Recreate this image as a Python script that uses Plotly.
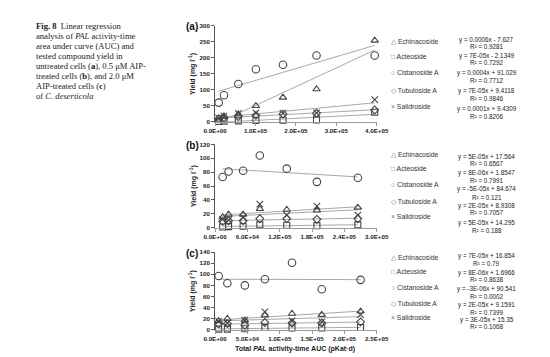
import numpy as np
import plotly.graph_objects as go

W, H = 550, 357

# ---------------- data ----------------
compounds = ["Echinacoside", "Acteoside", "Cistanoside A", "Tubuloside A", "Salidroside"]

# (a) untreated cells
x_a = [8.8e3, 2.2e4, 5.75e4, 1.01e5, 1.68e5, 2.51e5, 3.95e5]
echin_a = [11, 18, 24, 50, 76, 102, 254]
acteo_a = [1, 2, 3, 4, 5, 6, 30]
cist_a = [60, 83, 118, 164, 178, 207, 207]
tubu_a = [9, 12, 16, 20, 24, 27, 37]
sali_a = [12, 18, 26, 28, 27, 28, 69]

# (b) 0.5 uM AIP-treated cells
x_b = [1.4e4, 2.5e4, 5.2e4, 8.3e4, 1.33e5, 1.89e5, 2.65e5]
echin_b = [15, 19, 19, 27, 26, 25, 29]
acteo_b = [1, 1.5, 2, 4, 3.5, 3, 4]
cist_b = [73, 81, 82, 104, 85, 66, 72]
tubu_b = [9, 10, 10, 13, 13, 12, 13]
sali_b = [12, 11, 15, 34, 18, 31, 18]

# (c) 2.0 uM AIP-treated cells
x_c = [5.5e3, 1.9e4, 4.6e4, 7.7e4, 1.19e5, 1.65e5, 2.25e5]
echin_c = [16, 20, 17, 26, 29, 27, 33]
acteo_c = [1, 1, 1.5, 4, 3, 3, 4]
cist_c = [97, 84, 80, 91, 121, 73, 90]
tubu_c = [10, 11, 8, 13, 12, 12, 14]
sali_c = [15, 12, 17, 32, 16, 14, 27]

eq_a = ["y = 0.0006x - 7.627", "y = 7E-05x - 2.1349", "y = 0.0004x + 91.029",
        "y = 7E-05x + 9.4118", "y = 0.0001x + 9.4309"]
r2_a = ["R² = 0.9281", "R² = 0.7292", "R² = 0.7712", "R² = 0.9846", "R² = 0.8206"]
eq_b = ["y = 5E-05x + 17.564", "y = 8E-06x + 1.8547", "y = -5E-05x + 84.674",
        "y = 2E-05x + 8.9308", "y = 5E-05x + 14.295"]
r2_b = ["R² = 0.6567", "R² = 0.7991", "R² = 0.121", "R² = 0.7057", "R² = 0.188"]
eq_c = ["y = 7E-05x + 16.854", "y = 8E-06x + 1.6966", "y = -3E-06x + 90.541",
        "y = 2E-05x + 9.1591", "y = 3E-05x + 15.35"]
r2_c = ["R² = 0.79", "R² = 0.8638", "R² = 0.0002", "R² = 0.7399", "R² = 0.1068"]

xtick_a = [0, 1e5, 2e5, 3e5, 4e5]
xtext_a = ["0.0E+00", "1.0E+05", "2.0E+05", "3.0E+05", "4.0E+05"]
xtick_b = [0, 6e4, 1.2e5, 1.8e5, 2.4e5, 3e5]
xtext_b = ["0.0E+00", "6.0E+04", "1.2E+05", "1.8E+05", "2.4E+05", "3.0E+05"]
xtick_c = [0, 5e4, 1e5, 1.5e5, 2e5, 2.5e5]
xtext_c = ["0.0E+00", "5.0E+04", "1.0E+05", "1.5E+05", "2.0E+05", "2.5E+05"]

caption_lines = [
    "<b>Fig. 8</b>  Linear regression",
    "analysis of <i>PAL</i> activity-time",
    "area under curve (AUC) and",
    "tested compound yield in",
    "untreated cells (<b>a</b>), 0.5 μM AIP-",
    "treated cells (<b>b</b>), and 2.0 μM",
    "AIP-treated cells (<b>c</b>)",
    "of <i>C. deserticola</i>",
]

# ---------------- styling ----------------
symbols = ["triangle-up-open", "square-open", "circle-open", "diamond-open", "x-thin-open"]
sizes = [6.5, 6, 7.5, 6, 6.5]
legend_glyph = ["△", "□", "○", "◇", "×"]
MK = "#444444"
LN = "#a8a8a8"
FONT = "Liberation Sans, Arial, sans-serif"

def px_x(p):
    return p / W

def px_y(p):
    return 1 - p / H

X0, X1 = 204, 373
panels = [
    dict(x=x_a, ys=[echin_a, acteo_a, cist_a, tubu_a, sali_a], top=14, bot=112,
         yr=[0, 300], dy=50, xr=[0, 4e5], tv=xtick_a, tt=xtext_a, lab="(a)",
         eq=eq_a, r2=r2_a, leg_y=[30, 45, 62, 80, 96], eq_y=[29, 45, 62, 81, 99],
         r2_y=[35.5, 51.5, 69.5, 88.5, 106.5]),
    dict(x=x_b, ys=[echin_b, acteo_b, cist_b, tubu_b, sali_b], top=135, bot=220,
         yr=[0, 120], dy=20, xr=[0, 3e5], tv=xtick_b, tt=xtext_b, lab="(b)",
         eq=eq_b, r2=r2_b, leg_y=[145, 160, 176, 193, 209], eq_y=[148, 164, 181, 198, 215],
         r2_y=[155, 172, 189, 205, 223]),
    dict(x=x_c, ys=[echin_c, acteo_c, cist_c, tubu_c, sali_c], top=245, bot=324,
         yr=[0, 140], dy=20, xr=[0, 2.5e5], tv=xtick_c, tt=xtext_c, lab="(c)",
         eq=eq_c, r2=r2_c, leg_y=[250, 265, 281, 297, 312], eq_y=[249, 266, 283, 299, 314],
         r2_y=[257, 273, 290, 306, 321]),
]

fig = go.Figure()
annotations = []
layout = {}
tick_font = dict(family=FONT, size=6.2, color="#222", weight="bold")

for i, p in enumerate(panels):
    sfx = "" if i == 0 else str(i + 1)
    xa, ya = "x" + sfx, "y" + sfx
    xs = np.array(p["x"], dtype=float)
    # trend lines (least-squares fit of each series)
    for k, ys in enumerate(p["ys"]):
        m, b = np.polyfit(xs, np.array(ys, dtype=float), 1)
        xl = np.array([xs.min(), xs.max()])
        fig.add_trace(go.Scatter(x=xl, y=m * xl + b, mode="lines",
                                 line=dict(color=LN, width=1), showlegend=False,
                                 hoverinfo="skip", xaxis=xa, yaxis=ya))
    for k, ys in enumerate(p["ys"]):
        fig.add_trace(go.Scatter(x=xs, y=ys, mode="markers", name=compounds[k],
                                 marker=dict(symbol=symbols[k], size=sizes[k],
                                             color=MK, line=dict(color=MK, width=1.1)),
                                 showlegend=False, cliponaxis=False, xaxis=xa, yaxis=ya))
    layout["xaxis" + sfx] = dict(
        domain=[px_x(X0), px_x(X1)], range=p["xr"], anchor=ya,
        tickvals=p["tv"], ticktext=p["tt"], showgrid=False, zeroline=False,
        showline=True, linecolor="#9a9a9a", linewidth=1, ticks="outside",
        ticklen=3, tickcolor="#9a9a9a", tickfont=tick_font)
    layout["yaxis" + sfx] = dict(
        domain=[px_y(p["bot"]), px_y(p["top"])], range=p["yr"], anchor=xa,
        dtick=p["dy"], showgrid=False, zeroline=False, showline=True,
        linecolor="#555", linewidth=1, ticks="outside", ticklen=3, tickcolor="#555",
        tickfont=tick_font)
    # panel label
    annotations.append(dict(text="<b>%s</b>" % p["lab"], x=px_x(171), y=px_y(p["top"] + 1),
                            xref="paper", yref="paper", xanchor="left", yanchor="middle",
                            showarrow=False, font=dict(family=FONT, size=10, color="#111")))
    # y axis title
    annotations.append(dict(text="<b>Yield (mg l<sup>-1</sup>)</b>", x=px_x(181),
                            y=px_y((p["top"] + p["bot"]) / 2), textangle=-90,
                            xref="paper", yref="paper", xanchor="center", yanchor="middle",
                            showarrow=False, font=dict(family=FONT, size=7, color="#222")))
    # legend + equations
    for k in range(5):
        annotations.append(dict(
            text='<span style="color:#777">%s</span> %s' % (legend_glyph[k], compounds[k]),
            x=px_x(386), y=px_y(p["leg_y"][k]), xref="paper", yref="paper",
            xanchor="left", yanchor="middle", showarrow=False,
            font=dict(family=FONT, size=6.8, color="#333")))
        annotations.append(dict(text=p["eq"][k], x=px_x(488), y=px_y(p["eq_y"][k]),
                                xref="paper", yref="paper", xanchor="center", yanchor="middle",
                                showarrow=False, font=dict(family=FONT, size=6.3, color="#222")))
        annotations.append(dict(text=p["r2"][k], x=px_x(488), y=px_y(p["r2_y"][k]),
                                xref="paper", yref="paper", xanchor="center", yanchor="middle",
                                showarrow=False, font=dict(family=FONT, size=6.3, color="#222")))

# x axis title
annotations.append(dict(text="<b>Total <i>PAL</i> activity-time AUC (pKat·d)</b>",
                        x=px_x(288), y=px_y(344), xref="paper", yref="paper",
                        xanchor="center", yanchor="middle", showarrow=False,
                        font=dict(family=FONT, size=7, color="#222")))

# caption
cap_y = [14, 24.3, 34.6, 44.9, 55.2, 65.5, 75.8, 86.1]
for line, yy in zip(caption_lines, cap_y):
    annotations.append(dict(text=line, x=px_x(15), y=px_y(yy), xref="paper", yref="paper",
                            xanchor="left", yanchor="middle", showarrow=False,
                            font=dict(family="Liberation Serif, Times New Roman, serif",
                                      size=8.6, color="#222")))

fig.update_layout(width=W, height=H, margin=dict(l=0, r=0, t=0, b=0),
                  paper_bgcolor="white", plot_bgcolor="white",
                  showlegend=False, annotations=annotations, **layout)

fig.write_html("out.html")
